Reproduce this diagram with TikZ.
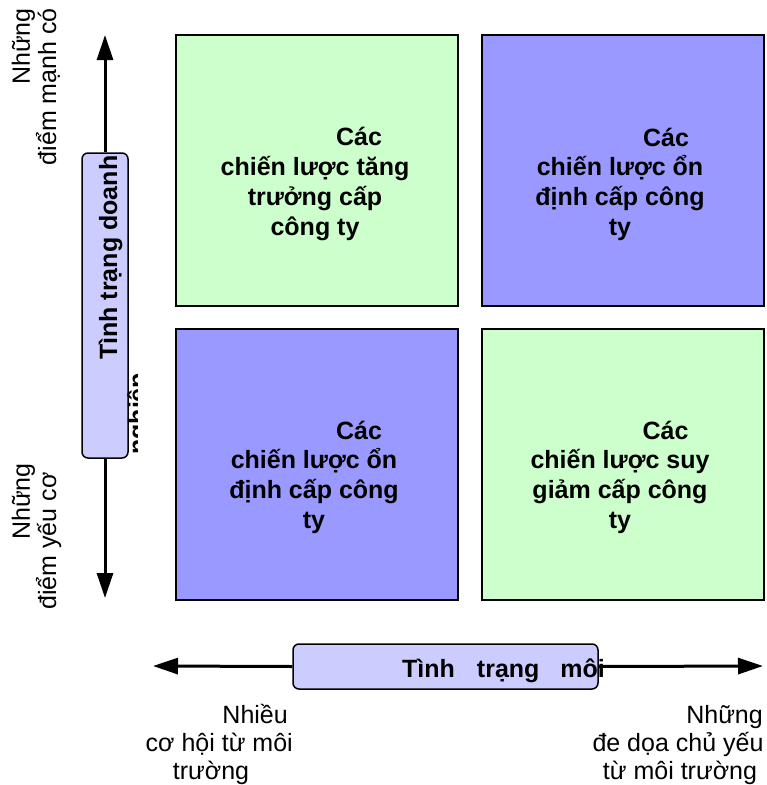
\documentclass[tikz,border=0pt]{standalone}
\usepackage{fontspec}
\setmainfont{Liberation Sans}
\usetikzlibrary{arrows.meta}
\definecolor{qgreen}{HTML}{CCFFCC}
\definecolor{qblue}{HTML}{9999FF}
\definecolor{lav}{HTML}{CCCCFF}
\begin{document}
\begin{tikzpicture}[x=1pt,y=-1pt,
  quad/.style={draw=black, line width=1.5pt, minimum width=282pt, minimum height=271pt, inner sep=0pt, anchor=north west},
  lbl/.style={font=\fontsize{25}{28.75}\selectfont, inner sep=0pt},
  qtxt/.style={font=\fontsize{25}{29.7}\selectfont\bfseries, align=center, inner sep=0pt},
  btxt/.style={font=\fontsize{25}{29.7}\selectfont\bfseries, inner sep=0pt},
  axis/.style={line width=3pt, -{Triangle[length=25pt,width=16pt]}},
  rbox/.style={draw=black, line width=1.5pt, fill=lav, rounded corners=6pt, inner sep=0pt}]
\useasboundingbox (0,0) rectangle (767,785);
% quadrants
\node[quad, fill=qgreen] (q1) at (175,34) {};
\node[quad, fill=qblue] (q2) at (481,34) {};
\node[quad, fill=qblue] (q3) at (175,328) {};
\node[quad, fill=qgreen] (q4) at (481,328) {};
\node[qtxt] (t1) at (315,184) {\hspace*{88pt}Các\\chiến lược tăng\\trưởng cấp\\công ty};
\node[qtxt] (t2) at (620,184) {\hspace*{92pt}Các\\chiến lược ổn\\định cấp công\\ty};
\node[qtxt] (t3) at (314,477) {\hspace*{90pt}Các\\chiến lược ổn\\định cấp công\\ty};
\node[qtxt] (t4) at (620,477) {\hspace*{91pt}Các\\chiến lược suy\\giảm cấp công\\ty};
% vertical axis
\node[rbox, minimum width=46pt, minimum height=305pt] (vb) at (105,305.5) {};
\coordinate (vt) at (105,35);
\coordinate (vbm) at (105,598);
\draw[axis] (vb.north) -- (vt);
\draw[axis] (vb.south) -- (vbm);
\node[btxt, rotate=90, anchor=base west] (vt1) at (117,360) {Tình trạng doanh};
\begin{scope}
\clip (120,360) rectangle (137,460);
\node[btxt, rotate=90, anchor=base west] (vt2) at (146,455) {nghiệp};
\end{scope}
% horizontal axis
\node[rbox, minimum width=305pt, minimum height=45pt] (hb) at (445.5,666.5) {};
\node[btxt, anchor=base west] (ht) at (402,677) {Tình\hspace{22pt}trạng\hspace{21pt}môi};
\coordinate (hl) at (153,666);
\coordinate (hr) at (763,666);
\draw[axis] (hb.west) -- (hl);
\draw[axis] (hb.east) -- (hr);
% labels
\node[lbl, rotate=90, anchor=base east] (l1a) at (30,8) {Những};
\node[lbl, rotate=90, anchor=base east] (l1b) at (56,8) {điểm mạnh có};
\node[lbl, rotate=90, anchor=base west] (l2a) at (30,540) {Những};
\node[lbl, rotate=90, anchor=base west] (l2b) at (56,610) {điểm yếu cơ};
\node[lbl, anchor=base east] (b1a) at (288,723) {Nhiều};
\node[lbl, anchor=base east] (b1b) at (293,751) {cơ hội từ môi};
\node[lbl, anchor=base] (b1c) at (211,779) {trường};
\node[lbl, anchor=base east] (b2a) at (763,723) {Những};
\node[lbl, anchor=base] (b2b) at (678,751) {đe dọa chủ yếu};
\node[lbl, anchor=base] (b2c) at (680,779) {từ môi trường};
\end{tikzpicture}
\end{document}
